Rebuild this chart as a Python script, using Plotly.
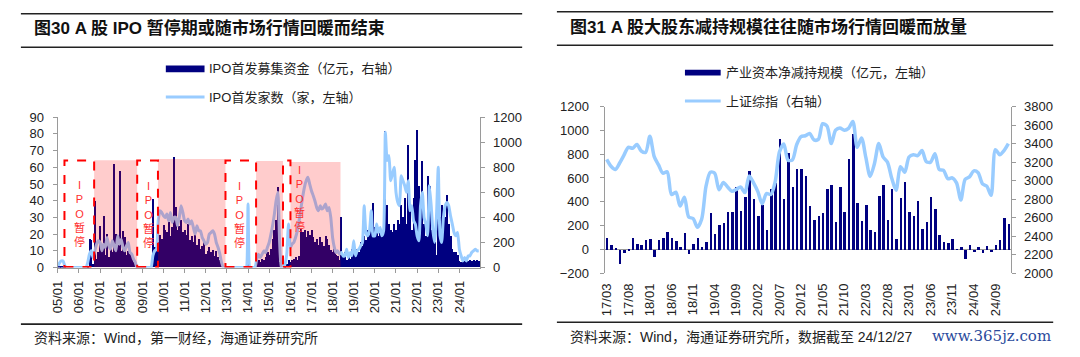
import plotly.graph_objects as go
import pandas as pd

W, H = 1080, 357

def fx(x):
    return x / W

def fy(y):
    return 1 - y / H

# ---------------- Left chart (图30) : monthly 2005/01 - 2024/12 ----------------
ipo_tick_labels = ["05/01", "06/01", "07/01", "08/01", "09/01", "10/01", "11/01", "12/01",
                   "13/01", "14/01", "15/01", "16/01", "17/01", "18/01", "19/01", "20/01",
                   "21/01", "22/01", "23/01", "24/01"]

# IPO首发家数（家，左轴）
ipo_count = [
    1, 3, 4, 4, 1, 0, 0, 0, 0, 0, 0, 0,            # 2005
    0, 0, 0, 0, 0, 3, 8, 10, 6, 10, 14, 16,        # 2006
    15, 10, 14, 12, 18, 13, 11, 16, 13, 10, 19, 14,  # 2007
    17, 12, 10, 13, 15, 9, 8, 5, 3, 0, 0, 0,       # 2008
    0, 0, 0, 0, 0, 0, 7, 10, 11, 28, 34, 33,       # 2009
    31, 30, 32, 28, 33, 27, 30, 30, 25, 30, 37, 33,  # 2010
    28, 27, 29, 26, 28, 24, 20, 25, 22, 22, 18, 16,  # 2011
    14, 15, 20, 21, 22, 20, 15, 12, 8, 3, 0, 0,    # 2012
    0, 0, 0, 0, 0, 0, 0, 0, 0, 0, 0, 0,            # 2013
    38, 0, 0, 0, 0, 5, 8, 6, 8, 10, 9, 12,         # 2014
    15, 20, 25, 32, 40, 45, 15, 0, 0, 2, 8, 26,    # 2015
    12, 14, 15, 18, 22, 28, 35, 42, 48, 52, 54, 50,  # 2016
    46, 43, 40, 36, 34, 37, 35, 36, 38, 34, 36, 30,  # 2017
    18, 12, 9, 10, 8, 9, 7, 7, 11, 6, 9, 7,        # 2018
    16, 7, 10, 11, 13, 15, 37, 21, 19, 22, 34, 19,  # 2019
    19, 26, 21, 24, 19, 22, 81, 64, 67, 52, 56, 60,  # 2020
    45, 39, 37, 55, 52, 49, 45, 52, 34, 37, 28, 26,  # 2021
    19, 16, 37, 45, 30, 26, 19, 49, 37, 22, 15, 30,  # 2022
    60, 19, 15, 30, 37, 39, 37, 31, 26, 21, 19, 21,  # 2023
    11, 7, 4, 6, 4, 7, 7, 9, 10, 11, 10, 10,       # 2024
]

# IPO首发募集资金（亿元，右轴）
ipo_funds = [
    6, 10, 15, 12, 5, 0, 0, 0, 0, 0, 0, 0,                  # 2005
    0, 0, 0, 0, 0, 15, 225, 215, 25, 533, 70, 120,          # 2006
    333, 130, 413, 100, 267, 80, 160, 120, 827, 267, 180, 773,  # 2007
    133, 293, 240, 100, 130, 110, 90, 40, 25, 0, 0, 0,      # 2008
    0, 0, 0, 0, 0, 0, 547, 160, 130, 200, 260, 230,         # 2009
    340, 300, 280, 360, 250, 320, 880, 480, 300, 330, 380, 280,  # 2010
    300, 260, 350, 220, 250, 200, 260, 180, 230, 150, 170, 200,  # 2011
    110, 130, 160, 120, 140, 90, 130, 80, 60, 20, 0, 0,     # 2012
    0, 0, 0, 0, 0, 0, 0, 0, 0, 0, 0, 0,                     # 2013
    100, 0, 0, 0, 0, 50, 60, 40, 70, 60, 80, 120,           # 2014
    100, 150, 230, 300, 380, 640, 40, 0, 0, 5, 30, 60,      # 2015
    40, 60, 70, 80, 60, 90, 310, 280, 300, 240, 290, 260,   # 2016
    300, 240, 200, 230, 180, 240, 200, 170, 250, 230, 180, 140,  # 2017
    120, 150, 100, 90, 60, 404, 80, 120, 60, 100, 70, 150,  # 2018
    130, 90, 150, 120, 200, 170, 250, 220, 300, 260, 400, 510,  # 2019
    320, 280, 250, 300, 280, 380, 1090, 500, 350, 300, 280, 350,  # 2020
    300, 380, 350, 500, 400, 550, 350, 975, 450, 300, 550, 860,  # 2021
    1100, 650, 500, 850, 350, 250, 730, 650, 300, 250, 200, 100,  # 2022
    550, 400, 500, 450, 400, 580, 350, 250, 150, 120, 120, 100,  # 2023
    50, 40, 60, 50, 40, 55, 60, 50, 60, 55, 60, 55,         # 2024
]

# IPO 暂停期（虚线框）及行情期（粉色底）
pause_starts = ["2005-04-25", "2008-10-03", "2012-12-07", "2015-08-28"]
pause_ends = ["2006-09-20", "2009-09-27", "2014-05-20", "2016-01-04"]
pink_end = "2018-05-18"
pause_label = "I<br>P<br>O<br>暂<br>停"

ipo_months = pd.date_range("2005-01-01", periods=len(ipo_count), freq="MS")

# ---------------- Right chart (图31) : monthly 2017/03 - 2024/12 ----------------
reduce_ticks = ["17/03", "17/08", "18/01", "18/06", "18/11", "19/04", "19/09", "20/02",
                "20/07", "20/12", "21/05", "21/10", "22/03", "22/08", "23/01", "23/06",
                "23/11", "24/04", "24/09"]

# 产业资本净减持规模（亿元，左轴）
net_reduction = [
    100, 35, 13, -120, -25, -10, 95, 50, 40, 80, 88, -60, 80, 95, 145, 100, 75, 20, 140, -35,
    50, 95, 20, 65, 310, 135, 207, 222, 313, 313, 528, 322, 442, 663, 430, 282, 375, 163, 512, 557,
    933, 425, 815, 523, 680, 678, 623, 365, 251, 282, 306, 508, 547, 236, 523, 313, 764, 974, 391, 243,
    376, 166, 150, 453, 547, 251, 508, 88, 438, 570, 313, 282, 407, 173, 236, 446, 344, 127, 64, 57,
    88, 2, 18, -76, 41, -21, 26, -29, 33, -21, 41, 80, 267, 212,
]

# 上证综指（右轴）
sse_index = [
    3230, 3155, 3120, 3190, 3275, 3360, 3350, 3390, 3320, 3305,
    3480, 3260, 3170, 3080, 3095, 2850, 2875, 2725, 2820, 2605, 2590, 2495,
    2585, 2940, 3090, 3080, 2900, 2980, 2930, 2885, 2905, 2930, 2870, 3050,
    2975, 2880, 2750, 2860, 2850, 2985, 3310, 3395, 3220, 3225, 3390, 3475,
    3485, 3510, 3440, 3445, 3615, 3590, 3400, 3545, 3570, 3545, 3565, 3640,
    3360, 3460, 3250, 3045, 3185, 3400, 3255, 3200, 3025, 2895, 3150, 3090,
    3255, 3280, 3270, 3325, 3205, 3200, 3290, 3120, 3110, 3020, 3030, 2975,
    2790, 3015, 3040, 3105, 3085, 2965, 2940, 2840, 3335, 3280, 3325, 3400,
]

red_months = pd.date_range("2017-03-01", periods=len(net_reduction), freq="MS").strftime("%y/%m").tolist()

NAVY = "#000080"
LBLUE = "#99CCFF"
AXC = "#9a9a9a"
TXT = "#222222"
FONT = "Liberation Sans, Arial, Noto Sans CJK SC"
CJK = "Liberation Sans, Noto Sans CJK SC"

fig = go.Figure()

# left chart
fig.add_trace(go.Bar(x=ipo_months, y=ipo_funds, marker=dict(color=NAVY, line=dict(width=0)),
                     width=26 * 86400000, xaxis="x", yaxis="y", name="IPO首发募集资金（亿元，右轴）"))
fig.add_trace(go.Scatter(x=ipo_months, y=ipo_count, mode="lines",
                         line=dict(color=LBLUE, width=3, shape="spline", smoothing=0.5),
                         xaxis="x", yaxis="y2", name="IPO首发家数（家，左轴）"))

# right chart
fig.add_trace(go.Bar(x=red_months, y=net_reduction, marker=dict(color=NAVY, line=dict(width=0)),
                     width=0.58, xaxis="x2", yaxis="y3", name="产业资本净减持规模（亿元，左轴）"))
fig.add_trace(go.Scatter(x=red_months, y=sse_index, mode="lines",
                         line=dict(color=LBLUE, width=3.5, shape="spline", smoothing=0.8),
                         xaxis="x2", yaxis="y4", name="上证综指（右轴）"))

tickfont = dict(family=FONT, size=13, color=TXT)

fig.update_layout(
    width=W, height=H,
    margin=dict(l=0, r=0, t=0, b=0),
    paper_bgcolor="white", plot_bgcolor="white",
    showlegend=False,
    bargap=0,
    xaxis=dict(domain=[fx(50), fx(476)], type="date", anchor="y",
               range=["2004-12-28", "2024-12-31"],
               tickvals=["20" + t[:2] + "-01-01" for t in ipo_tick_labels], ticktext=ipo_tick_labels,
               tickangle=-90, tickfont=tickfont, showgrid=False, zeroline=False,
               showline=True, linecolor=AXC, linewidth=1, ticks="outside", ticklen=4, tickcolor=AXC,
               ticklabelstandoff=3),
    yaxis=dict(domain=[fy(272), fy(115)], anchor="x", side="right", range=[0, 1200], dtick=200,
               tickfont=tickfont, showgrid=False, zeroline=False, showline=True, linecolor=AXC,
               ticks="outside", ticklen=4, tickcolor=AXC, ticklabelstandoff=5),
    yaxis2=dict(overlaying="y", anchor="x", side="left", range=[0, 90], dtick=10,
                tickfont=tickfont, showgrid=False, zeroline=False, showline=True, linecolor=AXC,
                ticks="outside", ticklen=4, tickcolor=AXC, ticklabelstandoff=6),
    xaxis2=dict(domain=[fx(601), fx(1010)], type="category", anchor="y3",
                range=[-0.5, len(red_months) - 0.5],
                tickvals=reduce_ticks, ticktext=reduce_ticks, tickangle=-90, tickfont=tickfont,
                showgrid=False, zeroline=False, showline=False, ticks="", ticklabelstandoff=7),
    yaxis3=dict(domain=[fy(277.7), fy(104)], anchor="x2", side="left", range=[-200, 1200], dtick=200,
                tickfont=tickfont, showgrid=False, zeroline=True, zerolinecolor=AXC, zerolinewidth=1,
                showline=True, linecolor=AXC, ticks="outside", ticklen=4, tickcolor=AXC,
                ticklabelstandoff=8),
    yaxis4=dict(overlaying="y3", anchor="x2", side="right", range=[2000, 3800], dtick=200,
                tickfont=tickfont, showgrid=False, zeroline=False, showline=True, linecolor=AXC,
                ticks="outside", ticklen=4, tickcolor=AXC, ticklabelstandoff=6),
)

shapes = []
# pink overlays (above traces, translucent red)
seg_starts = pause_ends
seg_ends = pause_starts[1:] + [pink_end]
pink_tops = [64.2, 65.0, 63.8, 63.2]
for s, e, t in zip(seg_starts, seg_ends, pink_tops):
    shapes.append(dict(type="rect", xref="x", yref="y2", x0=s, x1=e, y0=0, y1=t,
                       fillcolor="rgba(255,0,0,0.2)", line=dict(width=0), layer="above"))
# dashed pause boxes
for s, e in zip(pause_starts, pause_ends):
    shapes.append(dict(type="rect", xref="x", yref="y2", x0=s, x1=e, y0=0.4, y1=64,
                       fillcolor="rgba(0,0,0,0)", line=dict(color="#ff0000", width=2, dash="dash"),
                       layer="above"))

# title / footer rules
for (x0, x1, y) in [(13, 518, 7), (13, 518, 42), (553, 1053, 5), (553, 1053, 40),
                    (13, 518, 331), (553, 1053, 329)]:
    shapes.append(dict(type="line", xref="paper", yref="paper", x0=fx(x0), x1=fx(x1),
                       y0=fy(y), y1=fy(y), line=dict(color="#222222", width=1.6)))

# legends (manual)
shapes.append(dict(type="rect", xref="paper", yref="paper", x0=fx(159), x1=fx(198), y0=fy(68), y1=fy(61),
                   fillcolor=NAVY, line=dict(width=0)))
shapes.append(dict(type="line", xref="paper", yref="paper", x0=fx(159), x1=fx(198), y0=fy(94), y1=fy(94),
                   line=dict(color=LBLUE, width=3)))
shapes.append(dict(type="rect", xref="paper", yref="paper", x0=fx(682), x1=fx(718), y0=fy(71.5), y1=fy(65.5),
                   fillcolor=NAVY, line=dict(width=0)))
shapes.append(dict(type="line", xref="paper", yref="paper", x0=fx(682), x1=fx(718), y0=fy(98), y1=fy(98),
                   line=dict(color=LBLUE, width=3)))

annotations = []

def txt(x, y, s, size=13, anchor="left", color=TXT, family=CJK):
    annotations.append(dict(xref="paper", yref="paper", x=fx(x), y=fy(y), text=s, showarrow=False,
                            xanchor=anchor, yanchor="middle", align=anchor if anchor != "center" else "center",
                            font=dict(family=family, size=size, color=color)))

txt(24, 22, "<b>图30 A 股 IPO 暂停期或随市场行情回暖而结束</b>", size=17, color="#111111")
txt(564, 21, "<b>图31 A 股大股东减持规模往往随市场行情回暖而放量</b>", size=17, color="#111111")
txt(200, 64.5, "IPO首发募集资金（亿元，右轴）")
txt(200, 94.5, "IPO首发家数（家，左轴）")
txt(721, 68.5, "产业资本净减持规模（亿元，左轴）")
txt(721, 98.5, "上证综指（右轴）")
txt(24, 346, "资料来源：Wind，第一财经，海通证券研究所", size=14)
txt(564, 344, "资料来源：Wind，海通证券研究所，数据截至 24/12/27", size=14)
txt(1053, 343, "www.365jz.com", size=15, anchor="right", color="#2a4a9c",
    family="DejaVu Serif, Liberation Serif")

# IPO暂停 labels
for (x, y) in [(72, 215.5), (141.5, 217), (233.5, 217), (293.5, 200)]:
    annotations.append(dict(xref="paper", yref="paper", x=fx(x), y=fy(y), text=pause_label,
                            showarrow=False, xanchor="center", yanchor="middle", align="center",
                            font=dict(family=CJK, size=11, color="#ff3030")))

fig.update_layout(shapes=shapes, annotations=annotations)

fig.write_html("out.html", config={"displayModeBar": False},
               post_script="document.body.style.margin='0';document.body.style.overflow='hidden';")
